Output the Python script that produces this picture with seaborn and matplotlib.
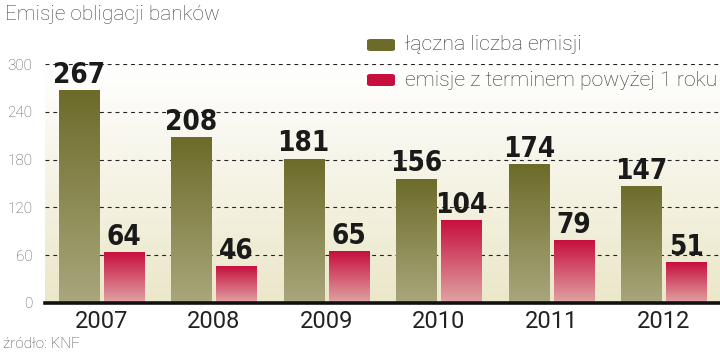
import numpy as np
import pandas as pd
import matplotlib
matplotlib.use("Agg")
import matplotlib.pyplot as plt
import seaborn as sns
from matplotlib import font_manager as fm
from matplotlib.colors import LinearSegmentedColormap
from matplotlib.patches import FancyBboxPatch

# data
years = ["2007", "2008", "2009", "2010", "2011", "2012"]
total = [267, 208, 181, 156, 174, 147]
over_1y = [64, 46, 65, 104, 79, 51]
series = ["łączna liczba emisji", "emisje z terminem powyżej 1 roku"]
yticks = [0, 60, 120, 180, 240, 300]

df = pd.DataFrame({
    "rok": years * 2,
    "liczba": total + over_1y,
    "seria": [series[0]] * len(years) + [series[1]] * len(years),
})

# gradients (top colour -> bottom colour)
grads = [("#6d6b29", "#a9a77c"), ("#c70f3e", "#e0a4a4")]


def narrow_bold():
    # look for a condensed bold face, fall back to Roboto bold
    for fam, st in [("Liberation Sans Narrow", "normal"),
                    ("DejaVu Sans", "condensed"),
                    ("Open Sans", "condensed"),
                    ("Roboto", "condensed")]:
        fp = fm.FontProperties(family=fam, weight="bold", stretch=st)
        try:
            path = fm.findfont(fp, fallback_to_default=False)
        except Exception:
            continue
        if "ondensed" in path or "arrow" in path:
            return fp, True
    return fm.FontProperties(family="Roboto", weight="bold"), False


lab_fp, is_narrow = narrow_bold()
lab_fp.set_size(20 if is_narrow else 17)

sns.set_style("white")
plt.rcParams["font.family"] = ["DejaVu Sans"]

fig = plt.figure(figsize=(7.2, 3.56), dpi=100)
ax = fig.add_axes([45 / 720, 1 - 303 / 356, 675 / 720, (303 - 64) / 356])

sns.barplot(data=df, x="rok", y="liczba", hue="seria", hue_order=series,
            palette=[g[0] for g in grads], width=0.8, gap=0.11,
            legend=False, ax=ax, zorder=3)

ax.set_xlim(-0.5, 5.5)
ax.set_ylim(0, 300)

# background gradient of the panel
bg = LinearSegmentedColormap.from_list("bg", ["#ebe7c9", "#ffffff"])
ax.imshow(np.linspace(0, 1, 256).reshape(-1, 1), cmap=bg, origin="lower",
          extent=[-0.5, 5.5, 0, 300], aspect="auto", zorder=0)

# gradient fill of every bar
for i, cont in enumerate(ax.containers):
    cmap = LinearSegmentedColormap.from_list("g%d" % i, [grads[i][1], grads[i][0]])
    for p in cont.patches:
        x0, w, h = p.get_x(), p.get_width(), p.get_height()
        im = ax.imshow(np.linspace(0, 1, 256).reshape(-1, 1), cmap=cmap,
                       origin="lower", extent=[x0, x0 + w, 0, h],
                       aspect="auto", zorder=3)
        im.set_clip_path(p)
        p.set_facecolor("none")
        p.set_edgecolor("none")
    txts = ax.bar_label(cont, padding=1, color="#1a1a1a", zorder=5)
    for t in txts:
        t.set_fontproperties(lab_fp)

# dashed grid
for t in yticks[1:]:
    ax.axhline(t, color="#222222", lw=0.8, ls=(0, (3.5, 3.5)), zorder=2)

ax.set_xlim(-0.5, 5.5)
ax.set_ylim(0, 300)
ax.set_yticks(yticks)
ax.set_xlabel("")
ax.set_ylabel("")
for s in ["left", "right", "top"]:
    ax.spines[s].set_visible(False)
ax.spines["bottom"].set_linewidth(2.6)
ax.spines["bottom"].set_color("#111111")
ax.spines["bottom"].set_zorder(6)
ax.tick_params(axis="y", length=0, pad=9, labelsize=11, labelcolor="#555555")
ax.tick_params(axis="x", length=0, pad=5, labelsize=17, labelcolor="#222222")
for lab in ax.get_yticklabels():
    lab.set_fontfamily(["Roboto", "DejaVu Sans"])
    lab.set_fontweight("light")
for lab in ax.get_xticklabels():
    lab.set_fontfamily(["Roboto", "DejaVu Sans"])

# title and source
fig.text(5 / 720, 1 - 14 / 356, "Emisje obligacji banków", fontsize=15,
         color="#444444", va="center", ha="left",
         family=["Roboto", "DejaVu Sans"], fontweight="light")
fig.text(3 / 720, 1 - 344 / 356, "źródło: KNF", fontsize=11,
         color="#444444", va="center", ha="left",
         family=["Roboto", "DejaVu Sans"], fontweight="light")

# legend with rounded swatches
for i, (name, yc) in enumerate(zip(series, [45, 80])):
    sw = FancyBboxPatch((367 / 720, 1 - (yc + 6) / 356), 28 / 720, 12 / 356,
                        boxstyle="round,pad=0,rounding_size=0.005",
                        transform=fig.transFigure, facecolor=grads[i][0],
                        edgecolor="none", zorder=10)
    fig.patches.append(sw)
    fig.text(405 / 720, 1 - yc / 356, name, fontsize=15.3, color="#333333",
             va="center", ha="left", family=["Roboto", "DejaVu Sans"],
             fontweight="light")

fig.savefig("out.png", dpi=100)
